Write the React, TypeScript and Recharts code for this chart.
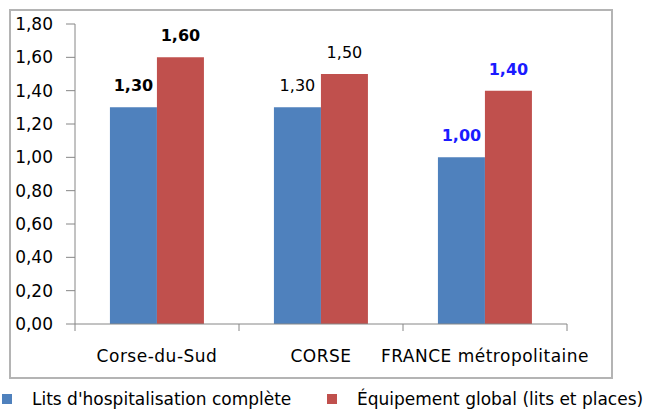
import React from 'react';
import { BarChart, Bar, XAxis, YAxis, LabelList, Legend } from 'recharts';

const categories = ['Corse-du-Sud', 'CORSE', 'FRANCE métropolitaine'];
const litsHospitalisation = [1.3, 1.3, 1.0];
const equipementGlobal = [1.6, 1.5, 1.4];
const yTicks = [0, 0.2, 0.4, 0.6, 0.8, 1.0, 1.2, 1.4, 1.6, 1.8];
const seriesNames = ["Lits d'hospitalisation complète", 'Équipement global (lits et places)'];

const data = categories.map((c, i) => ({
  name: c,
  lits: litsHospitalisation[i],
  equip: equipementGlobal[i],
}));

const BLUE = '#4F81BD';
const RED = '#C0504D';
const AXIS = '#868686';
const FONT = 'DejaVu Sans';

const labelStyleByCategory = [
  { fill: '#000', fontWeight: 'bold' },
  { fill: '#000', fontWeight: 'normal' },
  { fill: '#1a1aff', fontWeight: 'bold' },
];

const fmt = (v: number) => v.toFixed(2).replace('.', ',');

const renderLabel = (props: any) => {
  const { x, y, width, value, index } = props;
  const st = labelStyleByCategory[index ?? 0] || labelStyleByCategory[0];
  return (
    <text
      x={Number(x) + Number(width) / 2}
      y={Number(y) - 16}
      textAnchor="middle"
      fontFamily={FONT}
      fontSize={16}
      fontWeight={st.fontWeight}
      fill={st.fill}
    >
      {fmt(Number(value))}
    </text>
  );
};

const XTick = (props: any) => {
  const { x, y, payload, index, visibleTicksCount } = props;
  const off = payload && payload.offset != null ? payload.offset : 82;
  const last = index === (visibleTicksCount ?? categories.length) - 1;
  return (
    <g>
      <line x1={x - off} y1={y} x2={x - off} y2={y + 7} stroke={AXIS} strokeWidth={1} />
      {last && <line x1={x + off} y1={y} x2={x + off} y2={y + 7} stroke={AXIS} strokeWidth={1} />}
      <text
        x={x}
        y={y + 32}
        textAnchor="middle"
        dominantBaseline="central"
        fontFamily={FONT}
        fontSize={17}
        letterSpacing={0.5}
        fill="#000"
      >
        {payload.value}
      </text>
    </g>
  );
};

const LegendContent = () => {
  const colors = [BLUE, RED];
  const squareX = [2, 327];
  const textX = [32, 357];
  return (
    <svg width={647} height={24} style={{ display: 'block' }}>
      {seriesNames.map((n, i) => (
        <g key={n}>
          <rect x={squareX[i]} y={8} width={10} height={10} fill={colors[i]} />
          <text x={textX[i]} y={13} dominantBaseline="central" fontFamily={FONT} fontSize={17} fill="#000">
            {n}
          </text>
        </g>
      ))}
    </svg>
  );
};

export default function App() {
  return (
    <div style={{ position: 'absolute', left: 0, top: 0, width: 647, height: 410, background: '#fff' }}>
      <div
        style={{
          position: 'absolute',
          left: 9,
          top: 9,
          width: 600,
          height: 366,
          border: '2px solid #b4b4b4',
          pointerEvents: 'none',
        }}
      />
      <BarChart
        width={647}
        height={410}
        data={data}
        margin={{ top: 24, right: 80, left: 0, bottom: 0 }}
        barCategoryGap="21.3%"
        barGap={0}
      >
        <XAxis
          dataKey="name"
          type="category"
          height={86}
          axisLine={{ stroke: AXIS }}
          tickLine={false}
          tickSize={0}
          tickMargin={0}
          interval={0}
          tick={<XTick />}
        />
        <YAxis
          width={75}
          domain={[0, 1.8]}
          ticks={yTicks}
          interval={0}
          tickFormatter={fmt}
          axisLine={{ stroke: AXIS }}
          tickLine={{ stroke: AXIS }}
          tickSize={9}
          tickMargin={13}
          tick={{ fontFamily: FONT, fontSize: 17, fill: '#000' }}
        />
        <Legend
          layout="horizontal"
          verticalAlign="middle"
          align="center"
          content={<LegendContent />}
          wrapperStyle={{ top: 386, left: 0, width: 647, height: 24 }}
        />
        <Bar dataKey="lits" name={seriesNames[0]} fill={BLUE} isAnimationActive={false}>
          <LabelList dataKey="lits" content={renderLabel} />
        </Bar>
        <Bar dataKey="equip" name={seriesNames[1]} fill={RED} isAnimationActive={false}>
          <LabelList dataKey="equip" content={renderLabel} />
        </Bar>
      </BarChart>
    </div>
  );
}
